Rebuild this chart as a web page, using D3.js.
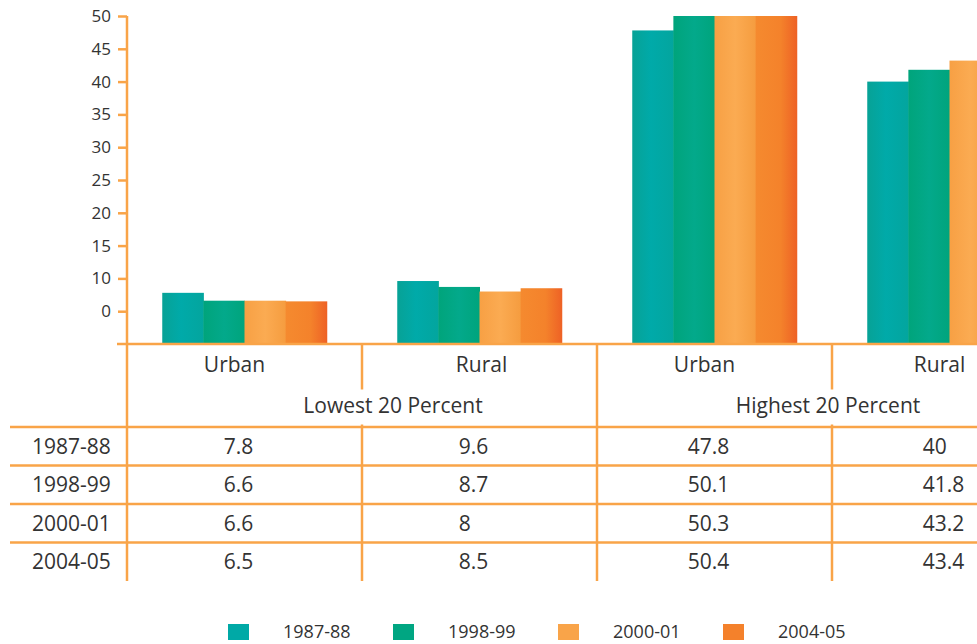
<!DOCTYPE html>
<html>
<head>
<meta charset="utf-8">
<script src="https://cdn.jsdelivr.net/npm/d3@7"></script>
<style>
  html, body { margin: 0; padding: 0; background: #fff; }
  svg { display: block; font-family: "Open Sans", "Noto Sans", sans-serif; }
</style>
</head>
<body>
<svg id="chart" width="977" height="644"></svg>
<script>
// Share of consumption by the lowest and highest 20 percent, urban and rural
const groups = ["Lowest Urban", "Lowest Rural", "Highest Urban", "Highest Rural"];
const areaLabels = ["Urban", "Rural", "Urban", "Rural"];
const bandLabels = ["Lowest 20 Percent", "Highest 20 Percent"];
const years = ["1987-88", "1998-99", "2000-01", "2004-05"];

const v1987 = [7.8, 9.6, 47.8, 40];
const v1998 = [6.6, 8.7, 50.1, 41.8];
const v2000 = [6.6, 8, 50.3, 43.2];
const v2004 = [6.5, 8.5, 50.4, 43.4];
const seriesValues = [v1987, v1998, v2000, v2004];

const tickValues = [5, 10, 15, 20, 25, 30, 35, 40, 45, 50];
const tickLabels = ["0", "10", "15", "20", "25", "30", "35", "40", "45", "50"];

const colors = ["#00a9a6", "#00a682", "#f9a449", "#f4812b"];
const lineColor = "#f9a448";
const textColor = "#333333";

const svg = d3.select("#chart");
const defs = svg.append("defs");

// Horizontal shading so each bar reads as a soft rounded column
const stops = [
  [["0%", "#07a296"], ["45%", "#00aaa9"], ["100%", "#03a59e"]],
  [["0%", "#00a47b"], ["50%", "#03a98b"], ["100%", "#00a47c"]],
  [["0%", "#f7a044"], ["50%", "#fbab52"], ["100%", "#f59c3f"]],
  [["0%", "#f58a2f"], ["60%", "#f4822b"], ["100%", "#ee6125"]]
];
stops.forEach((s, i) => {
  const g = defs.append("linearGradient").attr("id", "grad" + i)
    .attr("x1", "0%").attr("x2", "100%").attr("y1", "0%").attr("y2", "0%");
  s.forEach(([o, c]) => g.append("stop").attr("offset", o).attr("stop-color", c));
});

const axisX = 127, baseY = 344, topY = 16;

const x = d3.scaleBand().domain(groups).range([axisX, axisX + 4 * 235])
  .paddingInner(0.3).paddingOuter(0.15);
const xs = d3.scaleBand().domain(years).range([0, x.bandwidth()]);
const y = d3.scaleLinear().domain([0, 50]).range([baseY, topY]).clamp(true);

// Bars
const gBars = svg.append("g");
groups.forEach((grp, gi) => {
  gBars.append("g").attr("transform", `translate(${x(grp)},0)`)
    .selectAll("rect").data(years).join("rect")
    .attr("x", d => xs(d))
    .attr("width", xs.bandwidth() + 0.5)
    .attr("y", (d, si) => y(seriesValues[si][gi]))
    .attr("height", (d, si) => baseY - y(seriesValues[si][gi]))
    .attr("fill", (d, si) => `url(#grad${si})`);
});

// Y axis
const yAxis = d3.axisLeft(y).tickValues(tickValues)
  .tickFormat((d, i) => tickLabels[i]).tickSize(9).tickPadding(7);
const gY = svg.append("g").attr("transform", `translate(${axisX},0)`).call(yAxis);
gY.select(".domain").remove();
gY.selectAll(".tick line").attr("stroke", lineColor).attr("stroke-width", 2.5);
gY.selectAll(".tick text").attr("fill", textColor)
  .style("font-size", "17px").style("font-family", "'Open Sans', sans-serif");

// Table grid
const rowH = 38.5;
const headTop = baseY;
const headRow2 = headTop + 41.5;
const dataTop = headTop + 83;
const tableBottom = dataTop + 4 * rowH;
const colEdge = i => axisX + i * x.step();
const grid = svg.append("g").attr("stroke", lineColor).attr("stroke-width", 2.5).attr("fill", "none");

grid.append("line").attr("x1", axisX).attr("x2", axisX).attr("y1", topY).attr("y2", tableBottom);
grid.append("line").attr("x1", axisX - 10).attr("x2", 977).attr("y1", baseY).attr("y2", baseY);
for (let i = 1; i < 4; i++) {
  grid.append("line").attr("x1", colEdge(i)).attr("x2", colEdge(i))
    .attr("y1", headTop).attr("y2", tableBottom);
}
for (let r = 0; r < 4; r++) {
  const yy = dataTop + r * rowH;
  grid.append("line").attr("x1", 10).attr("x2", 977).attr("y1", yy).attr("y2", yy);
}

const patches = svg.append("g").attr("fill", "#fff");
const txt = svg.append("g").attr("fill", textColor).style("font-size", "21px");

// Urban / Rural header
const headShift = [-10, 2, -10, -10];
areaLabels.forEach((lab, i) => {
  txt.append("text").attr("x", x(groups[i]) + x.bandwidth() / 2 + headShift[i])
    .attr("y", headTop + 21).attr("dy", "0.35em").attr("text-anchor", "middle").text(lab);
});

// Lowest / Highest header, set over a white patch that breaks the column rule
const bandX = [colEdge(1) + 31, colEdge(3) - 4];
bandLabels.forEach((lab, i) => {
  const t = txt.append("text").attr("x", bandX[i]).attr("y", headRow2 + 20)
    .attr("dy", "0.35em").attr("text-anchor", "middle").text(lab);
  const bb = t.node().getBBox();
  patches.append("rect").attr("x", bb.x - 4).attr("y", headRow2 + 4)
    .attr("width", bb.width + 8).attr("height", 35);
});

// Data rows: year labels, then value columns set flush-left as a block
// centred under each group
years.forEach((yr, r) => {
  const cy = dataTop + r * rowH + rowH / 2;
  txt.append("text").attr("x", 32).attr("y", cy).attr("dy", "0.35em").text(yr);
});
groups.forEach((grp, gi) => {
  const cells = years.map((yr, r) => txt.append("text")
    .attr("y", dataTop + r * rowH + rowH / 2).attr("dy", "0.35em")
    .text(seriesValues[r][gi]));
  const maxW = d3.max(cells, c => c.node().getComputedTextLength());
  const left = x(grp) + x.bandwidth() / 2 - 6 - maxW / 2;
  cells.forEach(c => c.attr("x", left));
});

// Legend
const legend = svg.append("g").attr("transform", "translate(228,631)");
years.forEach((yr, i) => {
  const g = legend.append("g").attr("transform", `translate(${i * 165},0)`);
  g.append("rect").attr("x", 0).attr("y", -7).attr("width", 21).attr("height", 16).attr("fill", colors[i]);
  g.append("text").attr("x", 55).attr("y", 1).attr("dy", "0.35em")
    .attr("fill", textColor).style("font-size", "18px").text(yr);
});
</script>
</body>
</html>
